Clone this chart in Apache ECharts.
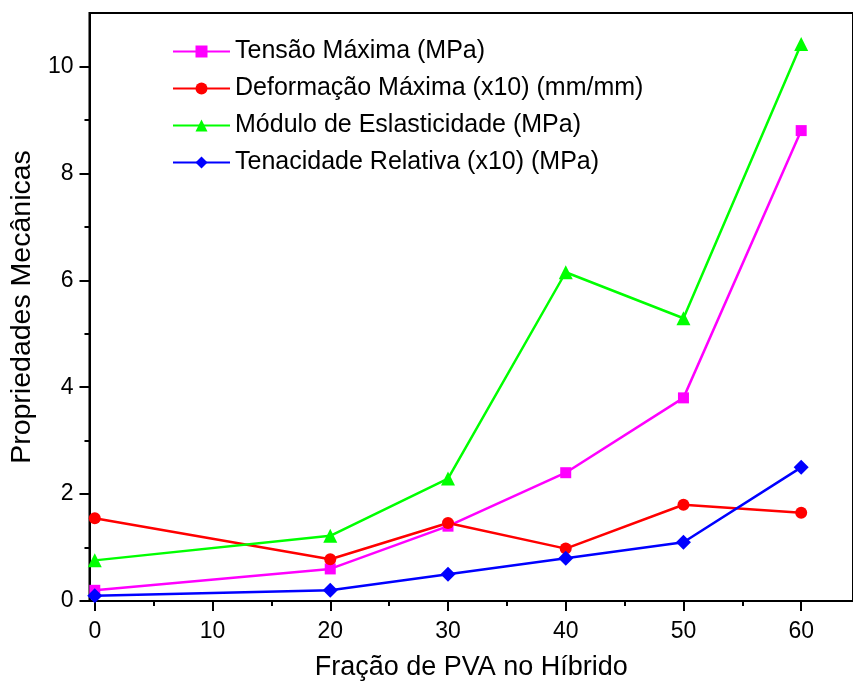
<!DOCTYPE html>
<html>
<head>
<meta charset="utf-8">
<script src="https://cdn.jsdelivr.net/npm/echarts@6/dist/echarts.min.js"></script>
<style>
  html, body { margin: 0; padding: 0; background: #fff; }
  #chart { width: 853px; height: 689px; }
</style>
</head>
<body>
<div id="chart"></div>
<script>
// fração de PVA (%)
const fracao = [0, 20, 30, 40, 50, 60];
const tensao = [0.2, 0.6, 1.4, 2.4, 3.8, 8.8];
const deformacao = [1.55, 0.78, 1.46, 0.98, 1.8, 1.65];
const modulo = [0.76, 1.22, 2.29, 6.15, 5.29, 10.42];
const tenacidade = [0.1, 0.2, 0.5, 0.8, 1.1, 2.5];

const xTicks = [0, 10, 20, 30, 40, 50, 60];
const xMinor = [5, 15, 25, 35, 45, 55];
const yTicks = [0, 2, 4, 6, 8, 10];
const yMinor = [1, 3, 5, 7, 9];

const fonte = '"Liberation Sans", Arial, sans-serif';

function pares(ys) {
  return fracao.map((x, i) => [x, ys[i]]);
}

function serie(nome, ys, cor, simbolo, tam) {
  return {
    name: nome,
    type: "line",
    data: pares(ys),
    symbol: simbolo,
    symbolSize: tam,
    lineStyle: { color: cor, width: 2.5 },
    itemStyle: { color: cor },
    emphasis: { disabled: true },
  };
}

const chart = echarts.init(document.getElementById("chart"));
chart.setOption({
  animation: false,
  backgroundColor: "#fff",
  textStyle: { fontFamily: fonte },
  grid: {
    left: 89,
    top: 13,
    right: -3,
    bottom: 88,
    show: true,
    borderColor: "#000",
    borderWidth: 2,
    backgroundColor: "transparent",
  },
  legend: {
    orient: "vertical",
    left: 172,
    top: 39,
    padding: 0,
    itemWidth: 57,
    itemHeight: 15,
    itemGap: 12,
    textStyle: { fontSize: 25, color: "#000", fontFamily: fonte },
  },
  xAxis: [
    {
      type: "value",
      min: -0.45,
      max: 64.4,
      name: "Fração de PVA no Híbrido",
      nameLocation: "middle",
      nameGap: 53,
      nameTextStyle: { fontSize: 27, color: "#000", fontFamily: fonte },
      axisLine: { show: true, onZero: false, lineStyle: { color: "#000", width: 2 } },
      axisTick: { show: true, length: 10, lineStyle: { width: 2 }, customValues: xTicks },
      axisLabel: { fontSize: 23, color: "#000", margin: 19, customValues: xTicks },
      splitLine: { show: false },
    },
    {
      type: "value",
      position: "bottom",
      min: -0.45,
      max: 64.4,
      axisLine: { show: false, onZero: false },
      axisTick: { show: true, inside: false, length: 5, lineStyle: { color: "#000", width: 2 }, customValues: xMinor },
      axisLabel: { show: false },
      splitLine: { show: false },
    },
  ],
  yAxis: [
    {
      type: "value",
      min: 0,
      max: 11,
      name: "Propriedades Mecânicas",
      nameLocation: "middle",
      nameGap: 47,
      nameTextStyle: { fontSize: 28.5, color: "#000", fontFamily: fonte },
      axisLine: { show: true, onZero: false, lineStyle: { color: "#000", width: 2 } },
      axisTick: { show: true, length: 10, lineStyle: { width: 2 }, customValues: yTicks },
      axisLabel: { fontSize: 23, color: "#000", margin: 16, customValues: yTicks },
      splitLine: { show: false },
    },
    {
      type: "value",
      position: "left",
      min: 0,
      max: 11,
      axisLine: { show: false, onZero: false },
      axisTick: { show: true, inside: false, length: 5, lineStyle: { color: "#000", width: 2 }, customValues: yMinor },
      axisLabel: { show: false },
      splitLine: { show: false },
    },
  ],
  series: [
    serie("Tensão Máxima (MPa)", tensao, "#ff00ff", "rect", 11),
    serie("Deformação Máxima (x10) (mm/mm)", deformacao, "#ff0000", "circle", 12),
    serie("Módulo de Eslasticidade (MPa)", modulo, "#00ff00", "triangle", 14),
    serie("Tenacidade Relativa (x10) (MPa)", tenacidade, "#0000ff", "diamond", 15),
  ],
});
</script>
</body>
</html>
